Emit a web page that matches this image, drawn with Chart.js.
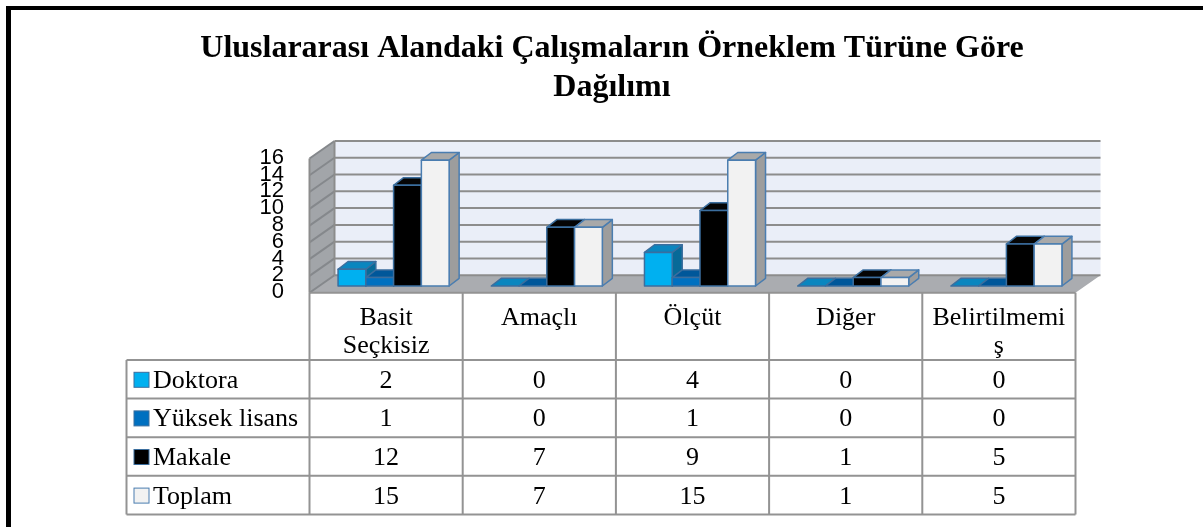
<!DOCTYPE html>
<html>
<head>
<meta charset="utf-8">
<title>Örneklem Türüne Göre Dağılım</title>
<script src="https://cdn.jsdelivr.net/npm/chart.js@4.4.1/dist/chart.umd.min.js"></script>
<style>
  html, body { margin: 0; padding: 0; background: #fff; }
  #wrap { position: relative; width: 1203px; height: 527px; overflow: hidden; }
  #frame { position: absolute; left: 6px; top: 6px; width: 1400px; height: 700px;
           border-left: 5px solid #000; border-top: 4px solid #000; }
  #chart { position: absolute; left: 0; top: 0; }
</style>
</head>
<body>
<div id="wrap">
  <div id="frame"></div>
  <canvas id="chart" width="1203" height="527"></canvas>
</div>
<script>
// ---- data ----
const categories = ['Basit Seçkisiz', 'Amaçlı', 'Ölçüt', 'Diğer', 'Belirtilmemiş'];
const categoryLines = [['Basit', 'Seçkisiz'], ['Amaçlı'], ['Ölçüt'], ['Diğer'], ['Belirtilmemi', 'ş']];
const doktora = [2, 0, 4, 0, 0];
const yuksekLisans = [1, 0, 1, 0, 0];
const makale = [12, 7, 9, 1, 5];
const toplam = [15, 7, 15, 1, 5];
const yTickValues = [0, 2, 4, 6, 8, 10, 12, 14, 16];

// ---- 3d geometry (pixels) ----
const BAR_DX = 7.5;   // bar plane sits this far behind the front plane
const BAR_DY = 6.7;
const WALL_DX = 25;   // depth of the floor / back wall
const WALL_DY = 17.5;
const BAR_DEPTH_X = 10;
const BAR_DEPTH_Y = 7.7;

const SERIF = '"Liberation Serif", "Times New Roman", serif';
const SANS = '"Liberation Sans", Arial, sans-serif';
const LINE = '#939393';

function poly(ctx, pts, fill, stroke, lw) {
  ctx.beginPath();
  ctx.moveTo(pts[0][0], pts[0][1]);
  for (let i = 1; i < pts.length; i++) ctx.lineTo(pts[i][0], pts[i][1]);
  ctx.closePath();
  if (fill) { ctx.fillStyle = fill; ctx.fill(); }
  if (stroke) { ctx.strokeStyle = stroke; ctx.lineWidth = lw || 1; ctx.stroke(); }
}

// walls, floor and gridlines behind the bars
const wallsPlugin = {
  id: 'walls',
  beforeDatasetsDraw(chart) {
    const { ctx, chartArea } = chart;
    const yScale = chart.scales.y;
    const fL = chartArea.left - BAR_DX, fR = chartArea.right - BAR_DX;
    const fB = chartArea.bottom + BAR_DY, fT = chartArea.top + BAR_DY;
    const bL = fL + WALL_DX, bR = fR + WALL_DX, bB = fB - WALL_DY, bT = fT - WALL_DY;
    ctx.save();
    // back wall
    poly(ctx, [[bL, bT], [bR, bT], [bR, bB], [bL, bB]], '#eaeef8');
    // left wall
    poly(ctx, [[fL, fT], [bL, bT], [bL, bB], [fL, fB]], '#a2a5a9');
    // floor
    poly(ctx, [[fL, fB], [fR, fB], [bR, bB], [bL, bB]], '#aaacb0');
    // gridlines
    ctx.lineWidth = 2;
    yTickValues.forEach(v => {
      const py = yScale.getPixelForValue(v) + BAR_DY;
      const pb = py - WALL_DY;
      ctx.strokeStyle = '#8c8c8c';
      ctx.beginPath(); ctx.moveTo(bL, pb); ctx.lineTo(bR, pb); ctx.stroke();
      ctx.strokeStyle = '#85888c';
      ctx.beginPath(); ctx.moveTo(fL, py); ctx.lineTo(bL, pb); ctx.stroke();
    });
    ctx.strokeStyle = '#8c8c8c';
    ctx.beginPath(); ctx.moveTo(bL, bT); ctx.lineTo(bL, bB); ctx.stroke();
    ctx.beginPath(); ctx.moveTo(fL, fT); ctx.lineTo(fL, fB); ctx.stroke();
    ctx.restore();
  }
};

// side and top faces of the bars, drawn left to right so the next front hides the previous side
const bars3dPlugin = {
  id: 'bars3d',
  afterDatasetsDraw(chart) {
    const { ctx } = chart;
    ctx.save();
    ctx.lineJoin = 'round';
    for (let i = 0; i < categories.length; i++) {
      chart.data.datasets.forEach((ds, d) => {
        const bar = chart.getDatasetMeta(d).data[i];
        const { x, y, base, width } = bar.getProps(['x', 'y', 'base', 'width'], true);
        const l = x - width / 2, r = x + width / 2;
        const lw = 1.5;
        if (base - y > 0.5) {
          poly(ctx, [[r, y], [r + BAR_DEPTH_X, y - BAR_DEPTH_Y], [r + BAR_DEPTH_X, base - BAR_DEPTH_Y], [r, base]],
            ds.sideColor, ds.borderColor, lw);
        }
        poly(ctx, [[l, y], [l + BAR_DEPTH_X, y - BAR_DEPTH_Y], [r + BAR_DEPTH_X, y - BAR_DEPTH_Y], [r, y]],
          ds.topColor, ds.borderColor, lw);
        if (base - y > 0.5) {
          poly(ctx, [[l, y], [r, y], [r, base], [l, base]], ds.backgroundColor, ds.borderColor, lw);
        }
      });
    }
    ctx.restore();
  }
};

// data table under the plot, columns follow the category scale
const tablePlugin = {
  id: 'dataTable',
  afterDraw(chart) {
    const { ctx, chartArea } = chart;
    const xs = chart.scales.x;
    const catW = xs.width / categories.length;
    const centers = categories.map((c, i) => xs.getPixelForValue(i) - BAR_DX);
    const colEdges = centers.map(c => c - catW / 2).concat([centers[centers.length - 1] + catW / 2]);
    const headTop = chartArea.bottom + BAR_DY;
    const headBottom = 360;
    const rowH = 38.6;
    const tableLeft = 126.5;
    const nRows = chart.data.datasets.length;
    const tableBottom = headBottom + nRows * rowH;
    const tableRight = colEdges[colEdges.length - 1];

    ctx.save();
    ctx.strokeStyle = LINE;
    ctx.lineWidth = 2;
    ctx.beginPath();
    ctx.moveTo(colEdges[0], headTop); ctx.lineTo(tableRight, headTop);
    for (let k = 0; k <= nRows; k++) {
      const yy = headBottom + k * rowH;
      ctx.moveTo(tableLeft, yy); ctx.lineTo(tableRight, yy);
    }
    ctx.moveTo(tableLeft, headBottom); ctx.lineTo(tableLeft, tableBottom);
    colEdges.forEach(xx => { ctx.moveTo(xx, headTop); ctx.lineTo(xx, tableBottom); });
    ctx.stroke();

    ctx.fillStyle = '#000';
    ctx.font = '26px ' + SERIF;
    ctx.textAlign = 'center';
    ctx.textBaseline = 'alphabetic';
    categoryLines.forEach((lines, i) => {
      lines.forEach((t, j) => ctx.fillText(t, centers[i], 325 + j * 28));
    });

    chart.data.datasets.forEach((ds, d) => {
      const top = headBottom + d * rowH;
      const baseLine = top + rowH / 2 + 8.5;
      // legend key
      ctx.fillStyle = ds.backgroundColor;
      ctx.fillRect(134, top + 12.3, 15, 15);
      ctx.strokeStyle = ds.keyBorder;
      ctx.lineWidth = 1;
      ctx.strokeRect(134, top + 12.3, 15, 15);
      ctx.fillStyle = '#000';
      ctx.font = '26px ' + SERIF;
      ctx.textAlign = 'left';
      ctx.fillText(ds.label, 153, baseLine);
      ctx.textAlign = 'center';
      ds.data.forEach((v, i) => ctx.fillText(String(v), centers[i], baseLine));
    });
    ctx.restore();
  }
};

const ctx = document.getElementById('chart').getContext('2d');
new Chart(ctx, {
  type: 'bar',
  data: {
    labels: categories,
    datasets: [
      { label: 'Doktora', data: doktora, backgroundColor: '#00b0f0', topColor: '#0a86bf', sideColor: '#076a98',
        borderColor: '#3b6e9e', keyBorder: '#3b6e9e' },
      { label: 'Yüksek lisans', data: yuksekLisans, backgroundColor: '#0070c0', topColor: '#00579a', sideColor: '#004c86',
        borderColor: '#3b6e9e', keyBorder: '#3b6e9e' },
      { label: 'Makale', data: makale, backgroundColor: '#000000', topColor: '#050505', sideColor: '#0c0c0c',
        borderColor: '#3b6e9e', keyBorder: '#3b6e9e' },
      { label: 'Toplam', data: toplam, backgroundColor: '#f2f2f2', topColor: '#a9a9a9', sideColor: '#9d9d9d',
        borderColor: '#4a7db0', keyBorder: '#4a7db0' }
    ].map(ds => Object.assign(ds, { borderWidth: 1.5, categoryPercentage: 0.725, barPercentage: 1.0 }))
  },
  options: {
    responsive: false,
    animation: false,
    devicePixelRatio: 1,
    // left padding keeps the title centred on the frame, the axis fills the rest
    layout: { padding: { left: 141, right: 120, top: 0, bottom: 241 } },
    plugins: {
      legend: { display: false },
      tooltip: { enabled: false },
      title: {
        display: true,
        text: ['Uluslararası Alandaki Çalışmaların Örneklem Türüne Göre', 'Dağılımı'],
        color: '#000',
        font: { family: SERIF, size: 32, weight: 'bold', lineHeight: 1.2 },
        padding: { top: 30, bottom: 45 }
      }
    },
    scales: {
      x: { display: false },
      y: {
        min: 0,
        max: 16,
        afterBuildTicks: s => { s.ticks = yTickValues.map(v => ({ value: v })); },
        afterFit: s => { s.width = 176; },
        grid: { display: false, drawTicks: false },
        border: { display: false },
        ticks: {
          autoSkip: false,
          padding: 33,
          labelOffset: 6,
          color: '#000',
          font: { family: SANS, size: 22 }
        }
      }
    }
  },
  plugins: [wallsPlugin, bars3dPlugin, tablePlugin]
});
</script>
</body>
</html>
